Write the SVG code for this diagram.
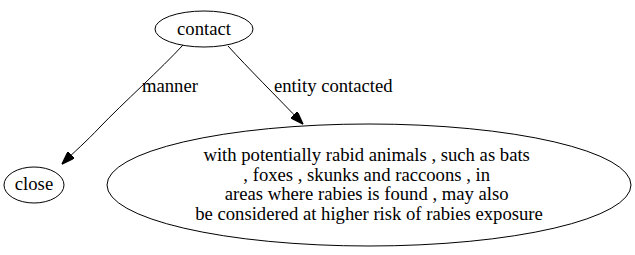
<svg xmlns="http://www.w3.org/2000/svg" width="635" height="255" viewBox="0 0 635 255">
  <style>
    .node ellipse { fill: none; stroke: #000; stroke-width: 1; }
    .lbl { font-family: "Liberation Serif", "Times New Roman", "DejaVu Serif", serif; font-size: 18.67px; fill: #000; }
    .edge path { fill: none; stroke: #000; stroke-width: 1; }
  </style>
  <defs>
    <marker id="arrow" viewBox="0 0 10 7" refX="10" refY="3.5" markerWidth="13" markerHeight="9" markerUnits="userSpaceOnUse" orient="auto">
      <path d="M0,0 L10,3.5 L0,7 Z" fill="#000" stroke="#000" stroke-width="1"/>
    </marker>
  </defs>
  <rect width="635" height="255" fill="#fff"/>

  <!-- connectors -->
  <g id="edges">
    <g class="edge" id="edge-manner">
      <path d="M183,45 C162,68 122,104 100,127 C86,142 74,152 62,164" marker-end="url(#arrow)"/>
      <text class="lbl" x="142" y="92">manner</text>
    </g>
    <g class="edge" id="edge-entity">
      <path d="M228,46 C248,68 276,96 303,124" marker-end="url(#arrow)"/>
      <text class="lbl" x="274" y="92">entity contacted</text>
    </g>
  </g>

  <g class="node" id="node-contact">
    <ellipse cx="204" cy="29" rx="49" ry="18"/>
    <text class="lbl" x="204" y="35" text-anchor="middle">contact</text>
  </g>

  <g class="node" id="node-close">
    <ellipse cx="34" cy="185" rx="30" ry="18"/>
    <text class="lbl" x="34" y="190" text-anchor="middle">close</text>
  </g>

  <g class="node" id="node-animals">
    <ellipse cx="369" cy="185" rx="262" ry="61"/>
    <text class="lbl" text-anchor="middle">
      <tspan x="369" y="161">with potentially rabid animals , such as bats</tspan>
      <tspan x="369" y="181">, foxes , skunks and raccoons , in</tspan>
      <tspan x="369" y="200">areas where rabies is found , may also</tspan>
      <tspan x="369" y="220">be considered at higher risk of rabies exposure</tspan>
    </text>
  </g>
</svg>
